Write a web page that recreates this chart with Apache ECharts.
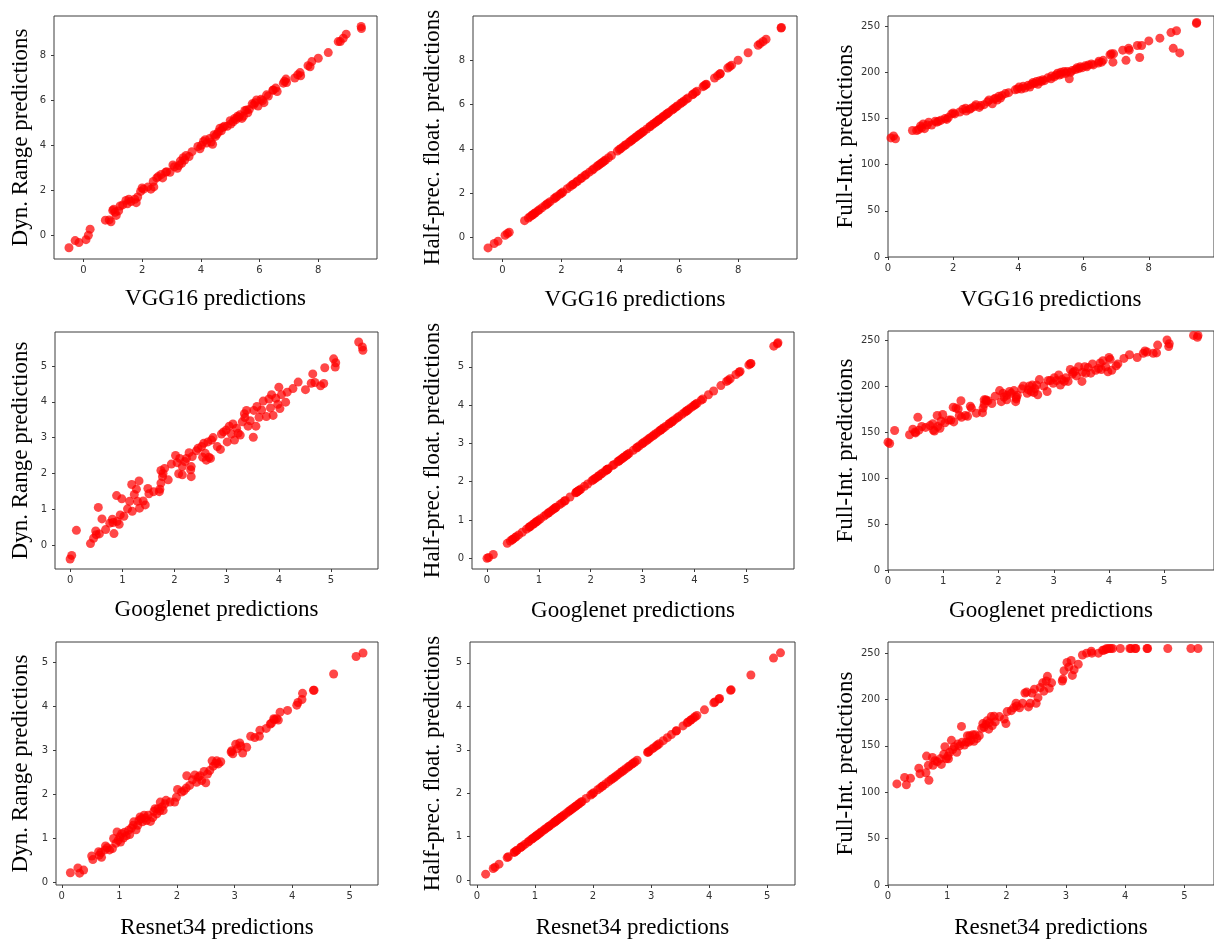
<!DOCTYPE html>
<html>
<head>
<meta charset="utf-8">
<title>Quantized model predictions</title>
<script src="https://cdn.jsdelivr.net/npm/echarts@6/dist/echarts.min.js"></script>
<style>
  html, body { margin: 0; padding: 0; background: #fff; }
  #chart { width: 1214px; height: 940px; }
</style>
</head>
<body>
<div id="chart"></div>
<script>
// ---- VGG16 row ----
const vggX = [
  -0.49, -0.28, -0.15, 0.09, 0.17, 0.23, 0.75, 0.88, 0.94, 1.0,
  1.03, 1.08, 1.12, 1.2, 1.25, 1.34, 1.45, 1.5, 1.55, 1.62,
  1.75, 1.8, 1.85, 1.95, 2.0, 2.05, 2.2, 2.3, 2.38, 2.4,
  2.5, 2.55, 2.65, 2.7, 2.8, 2.84, 2.95, 3.05, 3.1, 3.2,
  3.25, 3.3, 3.35, 3.4, 3.45, 3.5, 3.6, 3.7, 3.9, 3.97,
  4.02, 4.09, 4.15, 4.2, 4.3, 4.35, 4.4, 4.45, 4.5, 4.55,
  4.6, 4.65, 4.7, 4.75, 4.8, 4.9, 5.0, 5.02, 5.1, 5.15,
  5.2, 5.25, 5.3, 5.33, 5.4, 5.45, 5.5, 5.56, 5.6, 5.65,
  5.75, 5.8, 5.85, 5.9, 5.95, 6.05, 6.1, 6.15, 6.24, 6.3,
  6.45, 6.47, 6.55, 6.6, 6.81, 6.85, 6.9, 6.92, 7.2, 7.3,
  7.38, 7.4, 7.65, 7.72, 7.78, 8.0, 8.34, 8.68, 8.75, 8.85,
  8.95, 9.46, 9.47
]
const vggDyn = [
  -0.56, -0.24, -0.33, -0.2, 0.0, 0.27, 0.67, 0.68, 0.6, 1.1,
  1.15, 1.02, 0.88, 1.08, 1.3, 1.35, 1.55, 1.4, 1.6, 1.5,
  1.6, 1.45, 1.7, 1.95, 2.1, 2.05, 2.15, 2.05, 2.39, 2.15,
  2.55, 2.61, 2.7, 2.55, 2.8, 2.83, 2.8, 3.13, 3.05, 2.98,
  3.1, 3.3, 3.2, 3.45, 3.35, 3.55, 3.5, 3.72, 3.95, 3.85,
  4.0, 4.17, 4.25, 4.1, 4.3, 4.15, 4.05, 4.47, 4.4, 4.5,
  4.6, 4.76, 4.65, 4.8, 4.85, 4.85, 5.1, 4.95, 5.05, 5.2,
  5.15, 5.3, 5.25, 5.36, 5.2, 5.3, 5.55, 5.58, 5.45, 5.6,
  5.85, 5.8, 5.9, 6.02, 5.75, 6.05, 6.0, 5.9, 6.25, 6.2,
  6.45, 6.47, 6.55, 6.4, 6.77, 6.85, 6.95, 6.8, 7.0, 7.14,
  7.24, 7.1, 7.55, 7.5, 7.73, 7.88, 8.13, 8.62, 8.62, 8.77,
  8.95, 9.29, 9.2
]
const vggHalf = [
  -0.47, -0.27, -0.17, 0.1, 0.18, 0.24, 0.76, 0.88, 0.94, 1.0,
  1.03, 1.08, 1.12, 1.2, 1.25, 1.34, 1.45, 1.5, 1.55, 1.62,
  1.75, 1.8, 1.85, 1.95, 2.0, 2.05, 2.2, 2.3, 2.38, 2.4,
  2.5, 2.55, 2.65, 2.7, 2.8, 2.84, 2.95, 3.05, 3.1, 3.2,
  3.25, 3.3, 3.35, 3.4, 3.45, 3.5, 3.6, 3.7, 3.9, 3.97,
  4.02, 4.09, 4.15, 4.2, 4.3, 4.35, 4.4, 4.45, 4.5, 4.55,
  4.6, 4.65, 4.7, 4.75, 4.8, 4.9, 5.0, 5.02, 5.1, 5.15,
  5.2, 5.25, 5.3, 5.33, 5.4, 5.45, 5.5, 5.56, 5.6, 5.65,
  5.75, 5.8, 5.85, 5.9, 5.95, 6.05, 6.1, 6.15, 6.24, 6.3,
  6.45, 6.47, 6.55, 6.6, 6.81, 6.85, 6.9, 6.92, 7.2, 7.3,
  7.38, 7.4, 7.65, 7.72, 7.78, 8.0, 8.34, 8.68, 8.75, 8.85,
  8.95, 9.46, 9.48
]
const vggInt = [
  122, 125, 127, 129, 131, 128, 137, 137, 138, 142,
  140, 144, 139, 143, 146, 143, 147, 146, 147, 148,
  150, 149, 151, 155, 156, 155, 157, 160, 161, 158,
  160, 161, 163, 165, 162, 164, 165, 168, 170, 166,
  171, 172, 170, 174, 172, 175, 177, 178, 181, 182,
  184, 182, 185, 183, 186, 184, 187, 189, 188, 190,
  187, 191, 190, 192, 191, 194, 193, 196, 195, 197,
  199, 197, 200, 198, 201, 199, 201, 193, 200, 202,
  203, 205, 204, 206, 205, 207, 206, 208, 209, 208,
  210, 212, 211, 213, 219, 220, 211, 220, 224, 213,
  226, 224, 229, 216, 229, 234, 237, 243, 226, 245,
  221, 253, 254
]

// ---- Googlenet row ----
const googX = [
  0, 0.03, 0.12, 0.39, 0.45, 0.5, 0.49, 0.54, 0.56, 0.61,
  0.68, 0.76, 0.81, 0.82, 0.84, 0.89, 0.9, 0.94, 0.96, 0.99,
  1.03, 1.1, 1.14, 1.18, 1.19, 1.23, 1.27, 1.29, 1.32, 1.33,
  1.4, 1.44, 1.49, 1.51, 1.6, 1.71, 1.72, 1.74, 1.74, 1.77,
  1.78, 1.81, 1.88, 1.94, 2.02, 2.05, 2.08, 2.1, 2.15, 2.15,
  2.2, 2.23, 2.28, 2.31, 2.32, 2.32, 2.34, 2.42, 2.45, 2.52,
  2.54, 2.56, 2.59, 2.61, 2.64, 2.66, 2.69, 2.71, 2.74, 2.82,
  2.88, 2.9, 2.94, 2.99, 3.01, 3.05, 3.09, 3.12, 3.15, 3.19,
  3.22, 3.26, 3.3, 3.34, 3.35, 3.38, 3.41, 3.45, 3.51, 3.52,
  3.56, 3.58, 3.62, 3.67, 3.7, 3.76, 3.81, 3.84, 3.86, 3.89,
  3.94, 3.98, 4.0, 4.02, 4.05, 4.13, 4.16, 4.27, 4.37, 4.51,
  4.62, 4.65, 4.69, 4.8, 4.86, 4.88, 5.05, 5.08, 5.09, 5.53,
  5.6, 5.61
]
const googDyn = [
  -0.39, -0.29, 0.41, 0.04, 0.19, 0.29, 0.39, 1.05, 0.31, 0.73,
  0.43, 0.61, 0.72, 0.63, 0.32, 1.38, 0.66, 0.58, 0.84, 1.29,
  0.8, 1.01, 1.22, 1.69, 0.94, 1.41, 1.56, 1.22, 1.79, 1.03,
  1.23, 1.12, 1.58, 1.43, 1.49, 1.49, 1.56, 1.73, 2.08, 1.91,
  2.0, 2.14, 1.82, 2.26, 2.5, 2.3, 1.99, 2.42, 1.96, 2.19,
  2.33, 2.42, 2.58, 2.1, 1.91, 2.19, 2.47, 2.63, 2.7, 2.75,
  2.45, 2.84, 2.56, 2.37, 2.88, 2.45, 2.42, 2.93, 3.0, 2.75,
  2.67, 3.1, 3.16, 3.21, 2.88, 3.32, 3.1, 3.38, 2.93, 3.26,
  3.12, 3.07, 3.44, 3.67, 3.56, 3.76, 3.32, 3.47, 3.01, 3.76,
  3.32, 3.87, 3.57, 3.77, 4.02, 3.59, 4.08, 3.83, 4.2, 3.62,
  4.1, 3.93, 4.41, 3.81, 4.2, 3.99, 4.27, 4.37, 4.55, 4.34,
  4.52, 4.78, 4.54, 4.45, 4.51, 4.95, 5.2, 4.97, 5.09, 5.67,
  5.53, 5.44
]
const googHalf = [
  0.0, 0.02, 0.1, 0.39, 0.45, 0.5, 0.49, 0.54, 0.56, 0.61,
  0.68, 0.76, 0.81, 0.82, 0.84, 0.89, 0.9, 0.94, 0.96, 0.99,
  1.03, 1.1, 1.14, 1.18, 1.19, 1.23, 1.27, 1.29, 1.32, 1.33,
  1.4, 1.44, 1.49, 1.51, 1.6, 1.71, 1.72, 1.74, 1.74, 1.77,
  1.78, 1.81, 1.88, 1.94, 2.02, 2.05, 2.08, 2.1, 2.15, 2.15,
  2.2, 2.23, 2.28, 2.31, 2.32, 2.32, 2.34, 2.42, 2.45, 2.52,
  2.54, 2.56, 2.59, 2.61, 2.64, 2.66, 2.69, 2.71, 2.74, 2.82,
  2.88, 2.9, 2.94, 2.99, 3.01, 3.05, 3.09, 3.12, 3.15, 3.19,
  3.22, 3.26, 3.3, 3.34, 3.35, 3.38, 3.41, 3.45, 3.51, 3.52,
  3.56, 3.58, 3.62, 3.67, 3.7, 3.76, 3.81, 3.84, 3.86, 3.89,
  3.94, 3.98, 4.0, 4.02, 4.05, 4.13, 4.16, 4.27, 4.37, 4.51,
  4.62, 4.65, 4.69, 4.8, 4.86, 4.88, 5.05, 5.08, 5.09, 5.54,
  5.6, 5.63
]
const googInt = [
  139, 137.5, 151.7, 147, 153, 149, 150, 166, 152, 156,
  155, 157, 159, 152, 151, 168, 156, 154, 162, 169,
  160, 163, 163, 177, 161, 176, 175, 168, 184, 166,
  168, 167, 178, 176, 170.5, 171, 176, 180, 185, 185,
  184, 184, 181, 189, 195, 183, 192, 188, 185, 190,
  194, 192, 195, 183, 186, 188, 190, 197, 200, 192,
  196, 200, 194, 201, 193, 197, 201, 190.5, 207, 200,
  194, 206, 206, 203, 209, 206, 212, 201, 207, 205,
  209, 205, 218, 213, 215, 216, 211, 221, 205, 215,
  221, 214, 220, 214, 224, 217, 219, 225, 218, 227.5,
  221, 215.5, 231, 229, 217, 222, 224, 230, 234, 231,
  235.5, 238, 237, 235.5, 236, 244.5, 250, 243, 246, 255,
  253, 255
]

// ---- Resnet34 row ----
const resX = [
  0.15, 0.28, 0.31, 0.38, 0.52, 0.54, 0.64, 0.65, 0.68, 0.69,
  0.75, 0.76, 0.79, 0.83, 0.88, 0.9, 0.94, 0.96, 0.98, 1.01,
  1.02, 1.04, 1.07, 1.09, 1.12, 1.16, 1.18, 1.21, 1.24, 1.25,
  1.29, 1.32, 1.34, 1.36, 1.38, 1.4, 1.43, 1.45, 1.47, 1.5,
  1.54, 1.58, 1.6, 1.62, 1.65, 1.67, 1.7, 1.71, 1.74, 1.76,
  1.79, 1.81, 1.88, 1.96, 1.99, 2.01, 2.08, 2.12, 2.16, 2.17,
  2.22, 2.27, 2.31, 2.34, 2.37, 2.4, 2.43, 2.47, 2.5, 2.53,
  2.57, 2.61, 2.63, 2.67, 2.69, 2.72, 2.76, 2.94, 2.95, 2.97,
  3.02, 3.05, 3.09, 3.11, 3.14, 3.21, 3.28, 3.35, 3.43, 3.44,
  3.55, 3.62, 3.64, 3.68, 3.69, 3.73, 3.76, 3.79, 3.92, 4.08,
  4.1, 4.17, 4.18, 4.37, 4.38, 4.72, 5.11, 5.23
]
const resDyn = [
  0.21, 0.32, 0.2, 0.27, 0.59, 0.51, 0.69, 0.61, 0.67, 0.56,
  0.73, 0.82, 0.78, 0.73, 0.76, 0.99, 0.88, 1.14, 0.95, 1.03,
  0.91, 1.1, 1.0, 1.13, 1.05, 1.18, 1.08, 1.23, 1.29, 1.37,
  1.19, 1.29, 1.4, 1.48, 1.44, 1.37, 1.52, 1.46, 1.4, 1.52,
  1.38, 1.47, 1.61, 1.67, 1.55, 1.67, 1.62, 1.82, 1.71, 1.63,
  1.78, 1.86, 1.82, 1.82, 1.93, 2.11, 2.05, 2.08, 2.14, 2.42,
  2.2, 2.33, 2.44, 2.27, 2.39, 2.42, 2.31, 2.52, 2.26, 2.46,
  2.54, 2.76, 2.64, 2.7, 2.76, 2.69, 2.74, 2.96, 2.99, 2.92,
  3.14, 3.04, 3.17, 3.1, 2.94, 3.07, 3.32, 3.29, 3.32, 3.46,
  3.5, 3.6, 3.62, 3.72, 3.7, 3.72, 3.69, 3.87, 3.91, 4.03,
  4.09, 4.16, 4.3, 4.37, 4.37, 4.74, 5.14, 5.22
]
const resHalf = [
  0.14, 0.27, 0.3, 0.37, 0.52, 0.54, 0.64, 0.65, 0.68, 0.69,
  0.75, 0.76, 0.79, 0.83, 0.88, 0.9, 0.94, 0.96, 0.98, 1.01,
  1.02, 1.04, 1.07, 1.09, 1.12, 1.16, 1.18, 1.21, 1.24, 1.25,
  1.29, 1.32, 1.34, 1.36, 1.38, 1.4, 1.43, 1.45, 1.47, 1.5,
  1.54, 1.58, 1.6, 1.62, 1.65, 1.67, 1.7, 1.71, 1.74, 1.76,
  1.79, 1.81, 1.88, 1.96, 1.99, 2.01, 2.08, 2.12, 2.16, 2.17,
  2.22, 2.27, 2.31, 2.34, 2.37, 2.4, 2.43, 2.47, 2.5, 2.53,
  2.57, 2.61, 2.63, 2.67, 2.69, 2.72, 2.76, 2.94, 2.95, 2.97,
  3.02, 3.05, 3.09, 3.11, 3.14, 3.21, 3.28, 3.35, 3.43, 3.44,
  3.55, 3.62, 3.64, 3.68, 3.69, 3.73, 3.76, 3.79, 3.92, 4.08,
  4.1, 4.17, 4.18, 4.37, 4.38, 4.72, 5.11, 5.23
]
const resInt = [
  109, 116, 108, 115, 126, 120, 121, 139, 129, 113,
  137.5, 129, 134, 133, 136, 130, 141, 149, 136, 139,
  136, 143, 156, 146, 149, 143, 152, 150, 171, 154,
  151, 154, 161, 154, 161, 156, 162, 155, 162, 158,
  161, 169, 174, 170, 173, 177, 168, 175, 181.6, 172,
  182, 176, 181.6, 179, 174, 187, 188, 191, 196, 193,
  191, 196, 207, 208, 192, 196, 207, 211, 196, 202,
  213, 218, 209, 220, 225, 212, 218, 220, 222, 231,
  240, 235, 242, 226, 232, 238, 248, 250, 252, 250,
  250, 253, 253, 254, 255, 255, 255, 255, 255, 255,
  255, 255, 255, 255, 255, 255, 255, 255
]

// tick labels
const vggTicks = [0, 2, 4, 6, 8]
const unitTicks = [0, 1, 2, 3, 4, 5]
const intTicks = [0, 50, 100, 150, 200, 250]

const panels = [
  { x: vggX, y: vggDyn, grid: [54, 16, 323, 243], xr: [-1, 10], yr: [-1.06, 9.76], xt: vggTicks, yt: vggTicks, xn: 'VGG16 predictions', yn: 'Dyn. Range predictions', xg: 28, yg: 22 },
  { x: vggX, y: vggHalf, grid: [473, 16, 324, 243], xr: [-1, 10], yr: [-0.97, 10.0], xt: vggTicks, yt: vggTicks, xn: 'VGG16 predictions', yn: 'Half-prec. float. predictions', xg: 29, yg: 29 },
  { x: vggX, y: vggInt, grid: [888, 16, 332, 241], xr: [0, 10], yr: [0, 261], xt: vggTicks, yt: intTicks, xn: 'VGG16 predictions', yn: 'Full-Int. predictions', xg: 31, yg: 25 },
  { x: googX, y: googDyn, grid: [55, 332, 323, 237], xr: [-0.29, 5.9], yr: [-0.67, 5.95], xt: unitTicks, yt: unitTicks, xn: 'Googlenet predictions', yn: 'Dyn. Range predictions', xg: 29, yg: 23 },
  { x: googX, y: googHalf, grid: [472, 332, 322, 237], xr: [-0.29, 5.92], yr: [-0.28, 5.91], xt: unitTicks, yt: unitTicks, xn: 'Googlenet predictions', yn: 'Half-prec. float. predictions', xg: 30, yg: 28 },
  { x: googX, y: googInt, grid: [888, 331, 332, 239], xr: [0, 5.9], yr: [0, 259.8], xt: unitTicks, yt: intTicks, xn: 'Googlenet predictions', yn: 'Full-Int. predictions', xg: 29, yg: 24 },
  { x: resX, y: resDyn, grid: [56, 642, 322, 245], xr: [-0.1, 5.49], yr: [-0.07, 5.47], xt: unitTicks, yt: unitTicks, xn: 'Resnet34 predictions', yn: 'Dyn. Range predictions', xg: 31, yg: 24 },
  { x: resX, y: resHalf, grid: [470, 642, 325, 244], xr: [-0.12, 5.48], yr: [-0.11, 5.48], xt: unitTicks, yt: unitTicks, xn: 'Resnet34 predictions', yn: 'Half-prec. float. predictions', xg: 31, yg: 26 },
  { x: resX, y: resInt, grid: [888, 642, 332, 244], xr: [0, 5.5], yr: [0, 262], xt: unitTicks, yt: intTicks, xn: 'Resnet34 predictions', yn: 'Full-Int. predictions', xg: 31, yg: 24 }
]

const frameColor = '#3c3c3c'
const tickLabel = { color: '#333', fontSize: 10, fontFamily: 'DejaVu Sans' }
const titleStyle = { color: '#000', fontSize: 23, fontFamily: 'Liberation Serif' }

const axisBase = (ticks, margin) => ({
  type: 'value',
  nameLocation: 'middle',
  nameTextStyle: titleStyle,
  axisLine: { show: false, onZero: false },
  axisTick: { show: true, length: 3, customValues: ticks, lineStyle: { color: frameColor } },
  axisLabel: Object.assign({ customValues: ticks, margin: margin }, tickLabel),
  splitLine: { show: false }
})

const chart = echarts.init(document.getElementById('chart'))

chart.setOption({
  animation: false,
  backgroundColor: '#fff',
  grid: panels.map(p => ({
    left: p.grid[0], top: p.grid[1], width: p.grid[2], height: p.grid[3],
    show: true, borderColor: frameColor, borderWidth: 1, backgroundColor: 'transparent',
    containLabel: false
  })),
  xAxis: panels.map((p, i) => Object.assign(axisBase(p.xt, 6), {
    gridIndex: i, min: p.xr[0], max: p.xr[1], name: p.xn, nameGap: p.xg
  })),
  yAxis: panels.map((p, i) => Object.assign(axisBase(p.yt, 8), {
    gridIndex: i, min: p.yr[0], max: p.yr[1], name: p.yn, nameGap: p.yg
  })),
  series: panels.map((p, i) => ({
    type: 'scatter',
    xAxisIndex: i,
    yAxisIndex: i,
    data: p.x.map((v, k) => [v, p.y[k]]),
    symbolSize: 9,
    itemStyle: { color: '#ff0000', opacity: 0.72 },
    clip: true,
    silent: true,
    emphasis: { disabled: true }
  }))
})
</script>
</body>
</html>
